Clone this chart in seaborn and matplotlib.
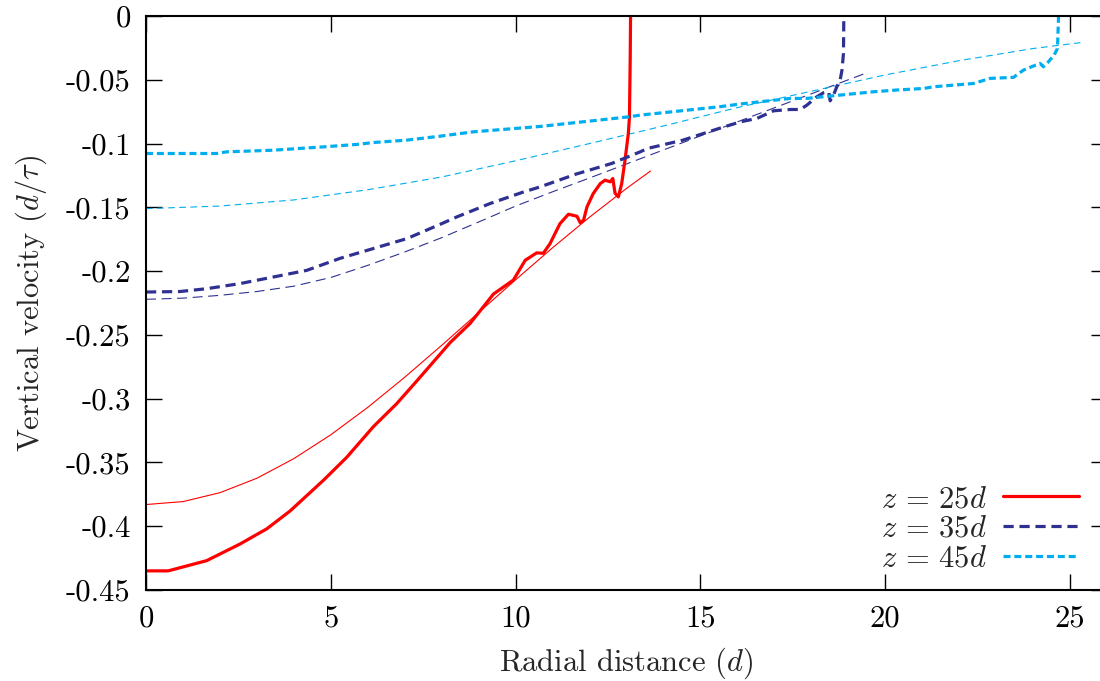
import matplotlib
matplotlib.use("Agg")
import matplotlib.pyplot as plt
import seaborn as sns

# z = 25d profile
x_z25 = [0, 0.6, 1.64, 2.54, 3.27, 3.9, 4.8, 5.43, 6.15, 6.78, 7.33, 7.78, 8.23, 8.77, 9.4, 9.94,
         10.26, 10.57, 10.75, 10.93, 11.20, 11.43, 11.66, 11.75, 11.84, 11.93, 12.10, 12.29, 12.42,
         12.56, 12.63, 12.69, 12.78, 12.87, 12.96, 13.05, 13.08, 13.10, 13.11]
y_z25 = [-0.435, -0.435, -0.427, -0.414, -0.402, -0.388, -0.364, -0.346, -0.322, -0.304, -0.286,
         -0.271, -0.256, -0.241, -0.218, -0.207, -0.1915, -0.1857, -0.186, -0.1785, -0.1628,
         -0.1554, -0.157, -0.1622, -0.160, -0.1497, -0.1392, -0.1314, -0.1287, -0.130, -0.1274,
         -0.139, -0.1418, -0.1314, -0.113, -0.092, -0.079, -0.0345, 0.0]

# z = 35d profile
x_z35 = [0, 0.92, 1.64, 2.54, 3.45, 4.35, 5.25, 6.15, 7.06, 7.96, 8.41, 9.31, 10.21, 10.66, 11.63,
         12.60, 13.37, 13.56, 14.53, 15.50, 16.08, 16.53, 16.98, 17.43, 17.70, 17.88, 18.15, 18.33,
         18.47, 18.51, 18.60, 18.69, 18.78, 18.83, 18.87, 18.88]
y_z35 = [-0.2164, -0.216, -0.2138, -0.2098, -0.2046, -0.1994, -0.190, -0.1823, -0.1745, -0.1633,
         -0.1575, -0.147, -0.138, -0.134, -0.124, -0.1156, -0.1065, -0.1039, -0.0973, -0.0882,
         -0.083, -0.0803, -0.0743, -0.0733, -0.0733, -0.0699, -0.0633, -0.0602, -0.0594, -0.0665,
         -0.062, -0.0555, -0.0502, -0.0424, -0.0293, 0.0]

# z = 45d profile
x_z45 = [0, 1.91, 2.18, 3.45, 4.80, 5.70, 6.15, 7.06, 7.96, 8.86, 10.66, 13.08, 13.37, 15.50, 16.08,
         17.43, 17.88, 18.78, 19.68, 20.33, 21.04, 21.30, 22.39, 22.84, 23.47, 23.74, 24.01, 24.19,
         24.28, 24.39, 24.57, 24.66, 24.69]
y_z45 = [-0.1078, -0.1078, -0.1065, -0.1052, -0.1026, -0.1007, -0.0992, -0.0973, -0.0942, -0.0908,
         -0.0866, -0.079, -0.0777, -0.0712, -0.0690, -0.0646, -0.0646, -0.062, -0.0594, -0.058,
         -0.0568, -0.0555, -0.0529, -0.0489, -0.0481, -0.0424, -0.0392, -0.0372, -0.0398, -0.0367,
         -0.0306, -0.0254, 0.0]

# fitted curves (thin lines)
x_fit25 = [0, 1, 2, 3, 4, 5, 6, 7, 8, 9, 10, 11, 12, 13, 13.65]
y_fit25 = [-0.383, -0.3807, -0.3737, -0.3624, -0.347, -0.3283, -0.3068, -0.2832, -0.2582, -0.2325,
           -0.2068, -0.1817, -0.1577, -0.1352, -0.1215]
x_fit35 = [0, 1, 2, 3, 4, 5, 6, 7, 8, 9, 10, 11, 12, 13, 14, 15, 16, 17, 18, 19, 19.46]
y_fit35 = [-0.2221, -0.2212, -0.219, -0.216, -0.2118, -0.205, -0.1955, -0.185, -0.1738, -0.1615,
           -0.149, -0.1378, -0.127, -0.116, -0.105, -0.094, -0.083, -0.072, -0.061, -0.05, -0.045]
x_fit45 = [0, 2, 4, 6, 8, 10, 12, 14, 16, 18, 20, 22, 24, 25.28]
y_fit45 = [-0.151, -0.149, -0.1442, -0.1362, -0.1262, -0.1135, -0.1, -0.0862, -0.0718, -0.059,
           -0.0462, -0.035, -0.0255, -0.0209]

labels = [r"$z\,=\,25d$", r"$z\,=\,35d$", r"$z\,=\,45d$"]
colors = ["#ff0000", "#2e3192", "#00aeef"]
x_ticks = [0, 5, 10, 15, 20, 25]
y_ticks = [0, -0.05, -0.1, -0.15, -0.2, -0.25, -0.3, -0.35, -0.4, -0.45]
y_tick_labels = ["0", "-0.05", "-0.1", "-0.15", "-0.2", "-0.25", "-0.3", "-0.35", "-0.4", "-0.45"]

sns.set_theme(style="ticks")
plt.rcParams["font.family"] = "serif"
plt.rcParams["font.serif"] = ["cmr10", "DejaVu Serif"]
plt.rcParams["mathtext.fontset"] = "cm"
plt.rcParams["axes.unicode_minus"] = False
plt.rcParams["axes.formatter.use_mathtext"] = True

fs = 22
fig = plt.figure(figsize=(11, 6.81), dpi=100)
ax = fig.add_axes([146 / 1100, 1 - 590 / 681, 961 / 1100, 574 / 681])

# thin fit lines
for xs, ys, c, d in [(x_fit25, y_fit25, colors[0], None),
                     (x_fit35, y_fit35, colors[1], (9, 5)),
                     (x_fit45, y_fit45, colors[2], (6, 4))]:
    sns.lineplot(x=xs, y=ys, ax=ax, color=c, linewidth=0.8, sort=False, estimator=None)
    if d is not None:
        ax.lines[-1].set_dashes(d)

# thick data lines
handles = []
for xs, ys, c, d, lab in [(x_z25, y_z25, colors[0], None, labels[0]),
                          (x_z35, y_z35, colors[1], (3.2, 1.8), labels[1]),
                          (x_z45, y_z45, colors[2], (2.2, 1.2), labels[2])]:
    sns.lineplot(x=xs, y=ys, ax=ax, color=c, linewidth=2.3, sort=False, estimator=None)
    ln = ax.lines[-1]
    if d is not None:
        ln.set_dashes(d)
    ln.set_label(lab)
    handles.append(ln)

ax.set_xlim(0, 26)
ax.set_ylim(-0.45, 0)
ax.set_xticks(x_ticks)
ax.set_xticklabels([str(t) for t in x_ticks])
ax.set_yticks(y_ticks)
ax.set_yticklabels(y_tick_labels)
ax.tick_params(direction="in", length=11.5, width=1.0, top=True, right=True,
               labelsize=fs, colors="black")
ax.tick_params(axis="x", pad=11)
ax.tick_params(axis="y", pad=11)
for s in ax.spines.values():
    s.set_linewidth(1.5)
    s.set_color("black")

ax.set_xlabel(r"Radial distance ($d$)", fontsize=fs, labelpad=9)
ax.set_ylabel(r"Vertical velocity ($d/\tau$)", fontsize=fs, labelpad=12)

leg = ax.legend(handles=handles, loc="lower right", bbox_to_anchor=(0.971, 0.03), frameon=False,
                markerfirst=False, fontsize=fs, handlelength=2.5, labelspacing=0.08,
                handletextpad=0.5, borderaxespad=0.0, borderpad=0.0)

fig.savefig("out.png", dpi=100)
